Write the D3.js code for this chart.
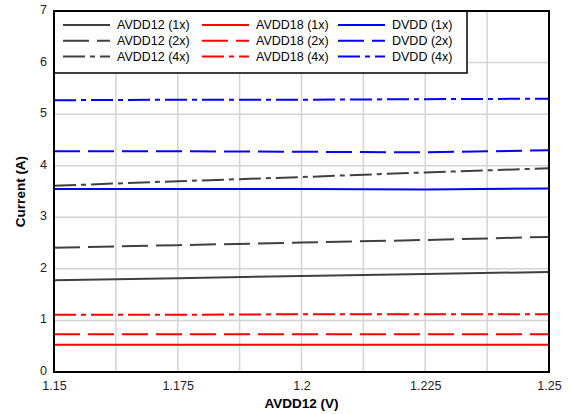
<!DOCTYPE html>
<html><head><meta charset="utf-8">
<script src="https://cdn.jsdelivr.net/npm/d3@7"></script>
<style>body{margin:0;background:#fff}svg{display:block;font-family:"Liberation Sans",Arial,sans-serif}</style>
</head><body>
<svg id="c" width="570" height="414"></svg>
<script>
const xValues = [1.15, 1.175, 1.2, 1.225, 1.25];
const xTicks = [1.15, 1.175, 1.2, 1.225, 1.25];
const xTickLabels = ["1.15", "1.175", "1.2", "1.225", "1.25"];
const yTicks = [0, 1, 2, 3, 4, 5, 6, 7];
const seriesNames = ["AVDD12 (1x)", "AVDD12 (2x)", "AVDD12 (4x)", "AVDD18 (1x)", "AVDD18 (2x)", "AVDD18 (4x)", "DVDD (1x)", "DVDD (2x)", "DVDD (4x)"];
const avdd12_1x = [1.78, 1.82, 1.86, 1.90, 1.94];
const avdd12_2x = [2.41, 2.46, 2.51, 2.56, 2.62];
const avdd12_4x = [3.61, 3.70, 3.78, 3.87, 3.95];
const avdd18_1x = [0.53, 0.53, 0.53, 0.53, 0.53];
const avdd18_2x = [0.73, 0.73, 0.73, 0.73, 0.73];
const avdd18_4x = [1.11, 1.11, 1.12, 1.12, 1.12];
const dvdd_1x = [3.55, 3.55, 3.55, 3.54, 3.56];
const dvdd_2x = [4.28, 4.28, 4.27, 4.26, 4.30];
const dvdd_4x = [5.27, 5.28, 5.28, 5.29, 5.30];
const seriesValues = [avdd12_1x, avdd12_2x, avdd12_4x, avdd18_1x, avdd18_2x, avdd18_4x, dvdd_1x, dvdd_2x, dvdd_4x];

const colors = ["#404040", "#404040", "#404040", "#ff0000", "#ff0000", "#ff0000", "#0000ff", "#0000ff", "#0000ff"];
const dashes = [null, "26,8", "22,5,5,5", null, "26,8", "22,5,5,5", null, "26,8", "22,5,5,5"];

const L = 54, R = 549, T = 11, B = 372;
const svg = d3.select("#c");
const x = d3.scaleLinear().domain([1.15, 1.25]).range([L, R]);
const y = d3.scaleLinear().domain([0, 7]).range([B, T]);

// grid
const gx = d3.range(1.15, 1.2501, 0.0125);
svg.append("g").selectAll("line").data(gx).join("line")
  .attr("x1", d => x(d)).attr("x2", d => x(d)).attr("y1", T).attr("y2", B)
  .attr("stroke", "#d4d4d4").attr("stroke-width", 1.5);
svg.append("g").selectAll("line").data(yTicks).join("line")
  .attr("x1", L).attr("x2", R).attr("y1", d => y(d)).attr("y2", d => y(d))
  .attr("stroke", "#d4d4d4").attr("stroke-width", 1.5);

// lines
const line = d3.line().x((d, i) => x(xValues[i])).y(d => y(d));
seriesValues.forEach((vals, k) => {
  svg.append("path").attr("d", line(vals)).attr("fill", "none")
    .attr("stroke", colors[k]).attr("stroke-width", 2)
    .attr("stroke-dasharray", dashes[k]);
});

// legend
const lg = svg.append("g");
lg.append("rect").attr("x", L).attr("y", T).attr("width", 413).attr("height", 62)
  .attr("fill", "#fff").attr("stroke", "#000").attr("stroke-width", 1.5);
const colX = [63, 202, 338];
seriesNames.forEach((name, k) => {
  const c = Math.floor(k / 3), r = k % 3;
  const yy = 25 + r * 15.8;
  lg.append("line").attr("x1", colX[c]).attr("x2", colX[c] + 47).attr("y1", yy).attr("y2", yy)
    .attr("stroke", colors[k]).attr("stroke-width", 2).attr("stroke-dasharray", dashes[k]);
  lg.append("text").attr("x", colX[c] + 54).attr("y", yy).attr("dy", "0.35em")
    .attr("font-size", 12.5).attr("fill", "#000").text(name);
});

// frame
svg.append("rect").attr("x", L).attr("y", T).attr("width", R - L).attr("height", B - T)
  .attr("fill", "none").attr("stroke", "#000").attr("stroke-width", 2);

// axes
const xa = svg.append("g").attr("transform", `translate(0,${B})`)
  .call(d3.axisBottom(x).tickValues(xTicks).tickFormat((d, i) => xTickLabels[i]).tickSize(0).tickPadding(7));
const ya = svg.append("g").attr("transform", `translate(${L},0)`)
  .call(d3.axisLeft(y).tickValues(yTicks).tickFormat(d3.format("d")).tickSize(0).tickPadding(7));
[xa, ya].forEach(a => {
  a.select(".domain").remove();
  a.selectAll("text").attr("font-size", 12.5).attr("fill", "#222").attr("font-family", '"Liberation Sans",Arial,sans-serif');
});
ya.selectAll("text").attr("dy", "0.2em");
xa.selectAll("text").attr("dy", "0.85em");

svg.append("text").attr("x", (L + R) / 2).attr("y", 408).attr("text-anchor", "middle")
  .attr("font-size", 13.5).attr("font-weight", "bold").text("AVDD12 (V)");
svg.append("text").attr("transform", `translate(25,${(T + B) / 2}) rotate(-90)`).attr("text-anchor", "middle")
  .attr("font-size", 13.5).attr("font-weight", "bold").text("Current (A)");
</script>
</body></html>
